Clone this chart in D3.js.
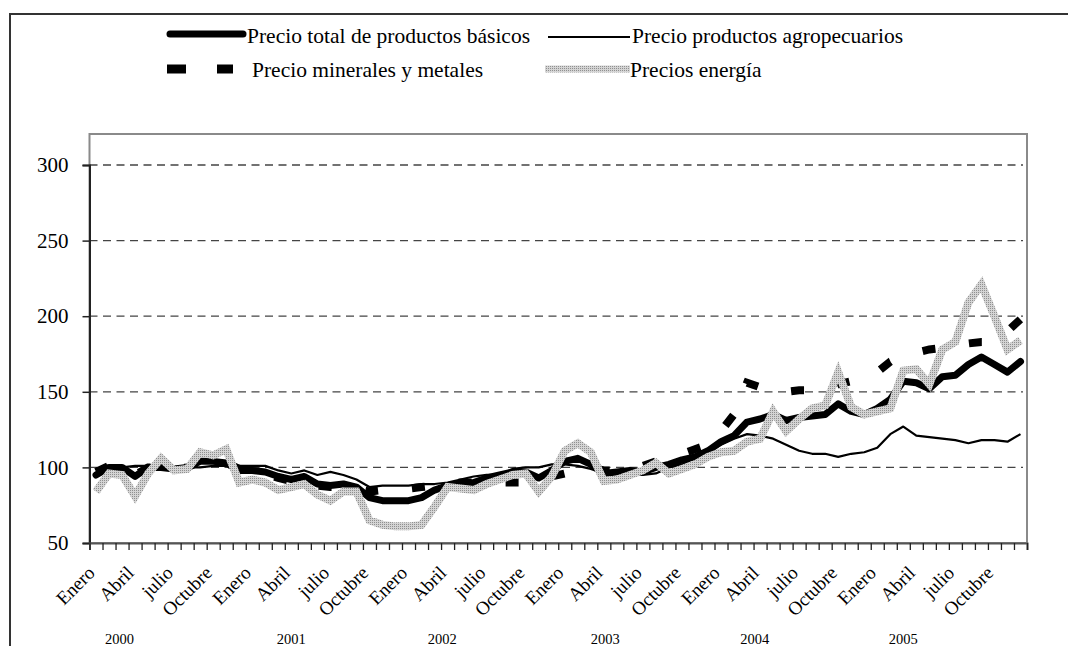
<!DOCTYPE html>
<html>
<head>
<meta charset="utf-8">
<script src="https://cdn.jsdelivr.net/npm/d3@7"></script>
<style>
  html, body { margin: 0; padding: 0; background: #fff; }
  svg { display: block; }
</style>
</head>
<body>
<svg id="chart" width="1068" height="646"></svg>
<script>
// Monthly commodity price indices, January 2000 – December 2005
const years = ["2000", "2001", "2002", "2003", "2004", "2005"];
const quarterMonths = ["Enero", "Abril", "julio", "Octubre"];
const yTicks = [50, 100, 150, 200, 250, 300];

const totalBasicos = [
  95, 100, 100, 94, 100, 100, 99, 100, 104, 104, 103, 98,
  98, 97, 94, 92, 94, 89, 88, 89, 87, 80, 78, 78,
  78, 80, 85, 88, 89, 90, 93, 95, 97, 97, 93, 98,
  104, 106, 102, 96, 97, 98, 97, 100, 102, 105, 107, 111,
  117, 121, 130, 132, 135, 131, 133, 134, 135, 142, 137, 135,
  139, 145, 157, 156, 152, 160, 161, 168, 173, 168, 163, 170
];
const agropecuarios = [
  99, 101, 100, 101, 101, 101, 100, 100, 100, 101, 101, 101,
  101, 101, 98, 96, 98, 95, 97, 95, 92, 87, 88, 88,
  88, 89, 89, 90, 92, 94, 95, 95, 99, 100, 100, 102,
  102, 101, 99, 96, 96, 95, 95, 96, 100, 102, 106, 110,
  115, 119, 122, 121, 119, 115, 111, 109, 109, 107, 109, 110,
  113, 122, 127, 121, 120, 119, 118, 116, 118, 118, 117, 122
];
const mineralesMetales = [
  97, 101, 100, 95, 100, 100, 99, 100, 104, 103, 103, 99,
  97, 96, 93, 91, 93, 88, 87, 87, 86, 84, 85, 85,
  86, 87, 88, 89, 90, 90, 90, 90, 90, 90, 91, 94,
  96, 100, 100, 98, 98, 99, 101, 104, 106, 109, 112, 115,
  124, 135, 156, 153, 150, 150, 151, 151, 151, 155, 157, 158,
  163, 170, 174, 176, 178, 179, 180, 182, 183, 183, 190, 198
];
const energia = [
  84, 96, 95, 81, 96, 106, 98, 99, 110, 108, 112, 90,
  92, 90, 85, 87, 89, 82, 78, 84, 84, 65, 62, 61,
  61, 62, 74, 87, 86, 85, 89, 92, 95, 96, 84, 94,
  111, 116, 110, 91, 92, 95, 98, 103, 96, 99, 102, 107,
  110, 111, 117, 119, 137, 124, 132, 139, 141, 163, 140, 135,
  137, 139, 164, 165, 155, 178, 183, 209, 221, 200, 178, 184
];

const seriesNames = [
  "Precio total de productos básicos",
  "Precio productos agropecuarios",
  "Precio minerales y metales",
  "Precios energía"
];

const SERIF = "'Liberation Serif', 'Times New Roman', Times, serif";
const nMonths = years.length * 12;
const svg = d3.select("#chart").attr("font-family", SERIF);

// Textured fill for the energy line
const defs = svg.append("defs");
const pat = defs.append("pattern")
  .attr("id", "dotGray")
  .attr("patternUnits", "userSpaceOnUse")
  .attr("width", 2).attr("height", 2);
pat.append("rect").attr("width", 2).attr("height", 2).attr("fill", "#d4d4d4");
pat.append("rect").attr("width", 1).attr("height", 1).attr("fill", "#909090");

// Outer frame
svg.append("rect")
  .attr("x", 10).attr("y", 14)
  .attr("width", 1100).attr("height", 700)
  .attr("fill", "none").attr("stroke", "#333").attr("stroke-width", 2);

// Plot area
const plot = { left: 89.5, right: 1027, top: 134, bottom: 543 };

const x = d3.scaleBand()
  .domain(d3.range(nMonths))
  .range([plot.left, plot.right])
  .paddingInner(0).paddingOuter(0);
const xEdge = d3.scaleLinear().domain([0, nMonths]).range([plot.left, plot.right]);
const xc = i => x(i) + x.bandwidth() / 2;

const y = d3.scaleLinear().domain([50, 300]).range([plot.bottom, 165]);

svg.append("rect")
  .attr("x", plot.left).attr("y", plot.top)
  .attr("width", plot.right - plot.left).attr("height", plot.bottom - plot.top)
  .attr("fill", "none").attr("stroke", "#8a8a8a").attr("stroke-width", 2);

// Dashed gridlines
svg.append("g").selectAll("line")
  .data(yTicks.filter(v => v > 50))
  .join("line")
  .attr("x1", plot.left).attr("x2", plot.right - 4)
  .attr("y1", d => y(d)).attr("y2", d => y(d))
  .attr("stroke", "#444").attr("stroke-width", 1.3)
  .attr("stroke-dasharray", "8,5.5");

// Series
const line = d3.line().x((d, i) => xc(i)).y(d => y(d));

svg.append("path").datum(totalBasicos)
  .attr("d", line).attr("fill", "none")
  .attr("stroke", "#000").attr("stroke-width", 7)
  .attr("stroke-linejoin", "round").attr("stroke-linecap", "round");

svg.append("path").datum(agropecuarios)
  .attr("d", line).attr("fill", "none")
  .attr("stroke", "#000").attr("stroke-width", 2.2)
  .attr("stroke-linejoin", "round");

svg.append("path").datum(mineralesMetales)
  .attr("d", line).attr("fill", "none")
  .attr("stroke", "#000").attr("stroke-width", 8)
  .attr("stroke-dasharray", "13,34")
  .attr("stroke-linejoin", "miter");

svg.append("path").datum(energia)
  .attr("d", line).attr("fill", "none")
  .attr("stroke", "url(#dotGray)").attr("stroke-width", 8)
  .attr("stroke-linejoin", "miter");

// Y axis
const yAxis = svg.append("g")
  .attr("transform", `translate(${plot.left},0)`)
  .call(d3.axisLeft(y).tickValues(yTicks).tickSize(7).tickPadding(14));
yAxis.attr("font-family", SERIF);
yAxis.select(".domain").attr("stroke", "#222").attr("stroke-width", 2);
yAxis.selectAll(".tick line").attr("stroke", "#222").attr("stroke-width", 1.5);
yAxis.selectAll(".tick text")
  .attr("font-size", 21).attr("fill", "#000");

// X axis: one tick per month boundary
const xAxis = svg.append("g")
  .attr("transform", `translate(0,${plot.bottom})`)
  .call(d3.axisBottom(xEdge).tickValues(d3.range(nMonths + 1)).tickFormat("").tickSize(7));
xAxis.select(".domain").attr("stroke", "#555").attr("stroke-width", 2);
xAxis.selectAll(".tick line").attr("stroke", "#222").attr("stroke-width", 1.3);

// Quarter month labels, rotated
const qLabels = d3.range(0, nMonths, 3).map(i => ({ i, text: quarterMonths[(i % 12) / 3] }));
svg.append("g").selectAll("text")
  .data(qLabels)
  .join("text")
  .attr("transform", d => `translate(${xc(d.i)},574) rotate(-45)`)
  .attr("text-anchor", "end")
  .attr("font-size", 19)
  .attr("fill", "#000")
  .text(d => d.text);

// Year labels under each year's labels
const yearLabelAt = [1.8, 15.0, 26.6, 39.1, 50.6, 62.0];
svg.append("g").selectAll("text")
  .data(years)
  .join("text")
  .attr("x", (d, k) => xEdge(yearLabelAt[k] + 0.5))
  .attr("y", 644)
  .attr("text-anchor", "middle")
  .attr("font-size", 14.5)
  .attr("fill", "#000")
  .text(d => d);

// Legend
const legend = svg.append("g").attr("font-size", 21.5).attr("fill", "#000");
legend.append("line")
  .attr("x1", 170).attr("x2", 243).attr("y1", 34).attr("y2", 34)
  .attr("stroke", "#000").attr("stroke-width", 7).attr("stroke-linecap", "round");
legend.append("text").attr("x", 247).attr("y", 43).text(seriesNames[0]);

legend.append("line")
  .attr("x1", 548).attr("x2", 630).attr("y1", 37).attr("y2", 37)
  .attr("stroke", "#000").attr("stroke-width", 2.2);
legend.append("text").attr("x", 632).attr("y", 43).text(seriesNames[1]);

legend.append("line")
  .attr("x1", 167).attr("x2", 233).attr("y1", 69).attr("y2", 69)
  .attr("stroke", "#000").attr("stroke-width", 9).attr("stroke-dasharray", "19,31");
legend.append("text").attr("x", 252).attr("y", 77).text(seriesNames[2]);

legend.append("line")
  .attr("x1", 545).attr("x2", 630).attr("y1", 69).attr("y2", 69)
  .attr("stroke", "url(#dotGray)").attr("stroke-width", 7);
legend.append("text").attr("x", 630).attr("y", 77).text(seriesNames[3]);
</script>
</body>
</html>
